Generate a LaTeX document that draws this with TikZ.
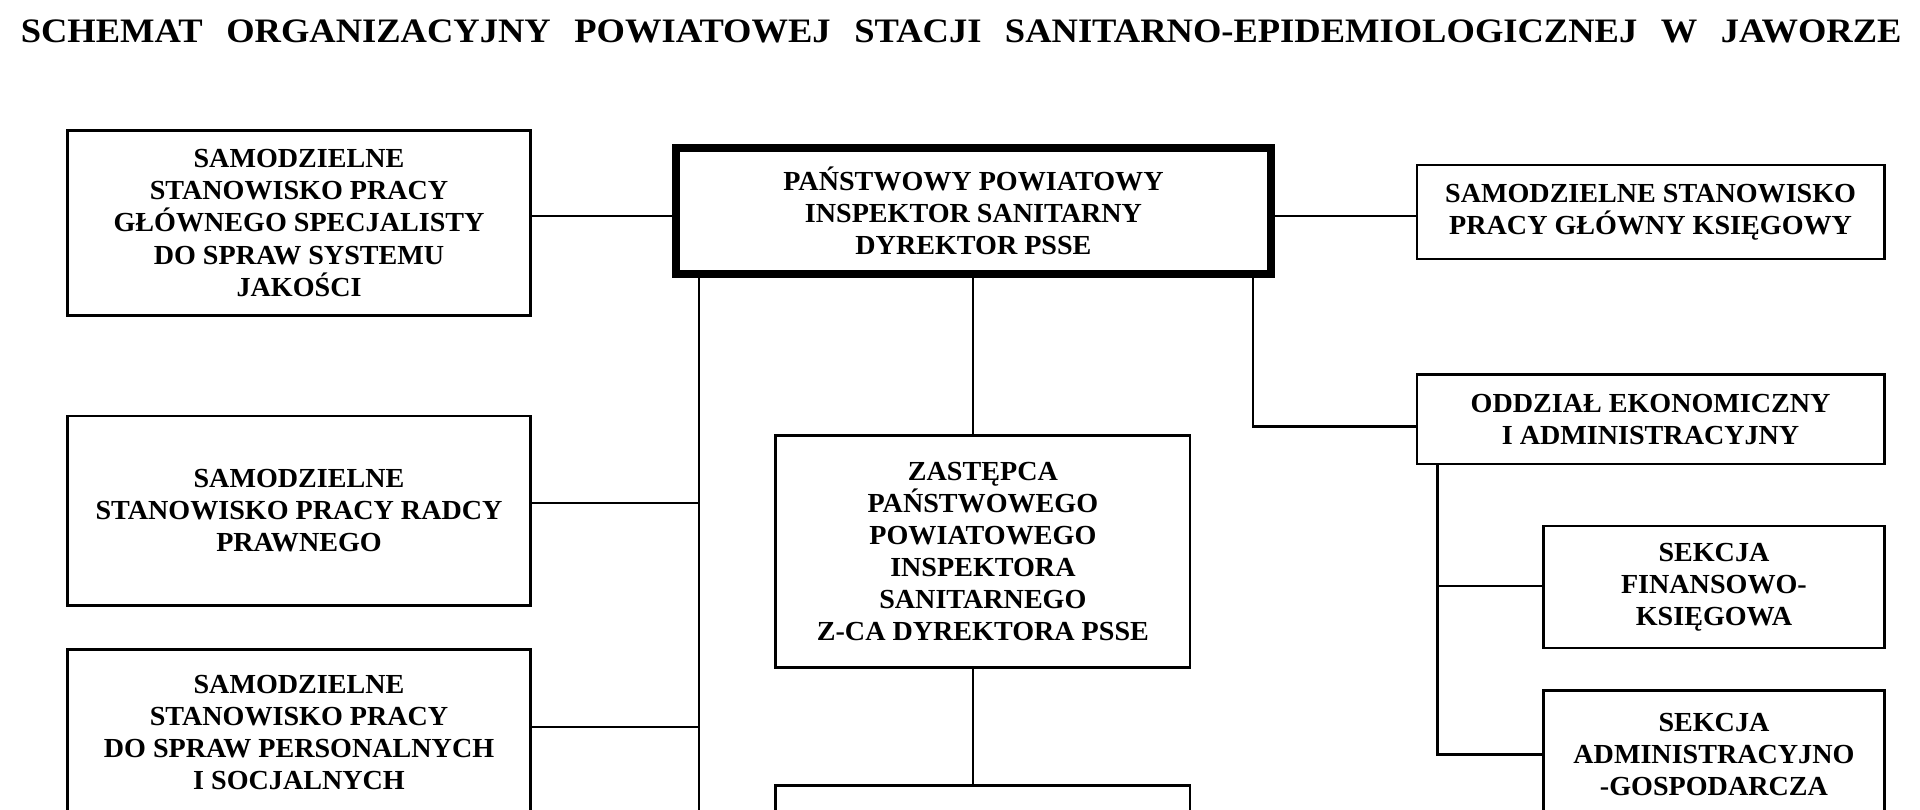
\documentclass[tikz,border=0pt]{standalone}
\usepackage{fontspec}
\setmainfont{Liberation Serif}
\newfontfamily\titlefamily{Liberation Serif}[FakeStretch=1.065]
\newfontfamily\boxfamily{Liberation Serif}[FakeStretch=1.02]
\begin{document}
\begin{tikzpicture}[x=1bp,y=-1bp,
  box/.style={draw=black, line width=1.9bp, inner sep=0pt, outer sep=0pt, align=center,
    font=\boxfamily\fontsize{22.5bp}{26.2bp}\selectfont\bfseries},
  mainbox/.style={box, line width=6.5bp},
  link/.style={draw=black, line width=1.9bp},
  titlefont/.style={font=\titlefamily\fontsize{28bp}{32bp}\selectfont\bfseries}]
\useasboundingbox (0,0) rectangle (1568,661.5);
\fill[white] (0,0) rectangle (1568,661.5);
\clip (0,0) rectangle (1568,661.5);

% title
\node[titlefont, anchor=base, inner sep=0pt] (T) at (785,34.8)
  {\makebox[1536bp][s]{SCHEMAT ORGANIZACYJNY POWIATOWEJ STACJI SANITARNO-EPIDEMIOLOGICZNEJ W JAWORZE}};

% boxes
\node[mainbox, minimum width=486bp, minimum height=103bp] (M) at (795,172.5)
  {PAŃSTWOWY POWIATOWY\\INSPEKTOR SANITARNY\\DYREKTOR PSSE};
\node[box, minimum width=378bp, minimum height=151bp] (A) at (244.2,182.1)
  {SAMODZIELNE\\STANOWISKO PRACY\\GŁÓWNEGO SPECJALISTY\\DO SPRAW SYSTEMU\\JAKOŚCI};
\node[box, minimum width=382bp, minimum height=76.4bp] (R) at (1348,173.2)
  {SAMODZIELNE STANOWISKO\\PRACY GŁÓWNY KSIĘGOWY};
\node[box, minimum width=378bp, minimum height=155bp] (B) at (244.2,417)
  {SAMODZIELNE\\STANOWISKO PRACY RADCY\\PRAWNEGO};
\node[box, minimum width=378bp, minimum height=135bp] (C) at (244.2,598)
  {SAMODZIELNE\\STANOWISKO PRACY\\DO SPRAW PERSONALNYCH\\I SOCJALNYCH};
\node[box, minimum width=338.7bp, minimum height=189.4bp] (Z) at (802.7,450.3)
  {ZASTĘPCA\\PAŃSTWOWEGO\\POWIATOWEGO\\INSPEKTORA\\SANITARNEGO\\Z-CA DYREKTORA PSSE};
\node[box, minimum width=338.7bp, minimum height=80bp] (D) at (802.7,681.5) {};
\node[box, minimum width=382bp, minimum height=73bp] (O) at (1348,342.3)
  {ODDZIAŁ EKONOMICZNY\\I ADMINISTRACYJNY};
\node[box, minimum width=278.6bp, minimum height=99.7bp] (SF) at (1399.7,479.5)
  {SEKCJA\\FINANSOWO-\\KSIĘGOWA};
\node[box, minimum width=278.6bp, minimum height=104bp] (SA) at (1399.7,616)
  {SEKCJA\\ADMINISTRACYJNO\\-GOSPODARCZA};

% helper coordinates
\coordinate (yTop) at (0,176.2);
\coordinate (Lend) at (570.6,680);
\coordinate (vMid) at (794.4,0);
\coordinate (vRight) at (1023,348.4);
\coordinate (vSec) at (1174,616.3);
\coordinate (ySF) at (0,478.3);
\coordinate (yB) at (0,411);
\coordinate (yC) at (0,593.5);

% connectors
\draw[link] (A.east |- yTop) -- (M.west |- yTop);
\draw[link] (M.east |- yTop) -- (R.west |- yTop);
\draw[link] (M.south -| Lend) -- (Lend);
\draw[link] (B.east |- yB) -- (Lend |- yB);
\draw[link] (C.east |- yC) -- (Lend |- yC);
\draw[link] (M.south -| vMid) -- (Z.north -| vMid);
\draw[link] (Z.south -| vMid) -- (D.north -| vMid);
\draw[link] (M.south -| vRight) |- (O.west |- vRight);
\draw[link] (O.south -| vSec) |- (SA.west |- vSec);
\draw[link] (vSec |- ySF) -- (SF.west |- ySF);
\end{tikzpicture}
\end{document}
